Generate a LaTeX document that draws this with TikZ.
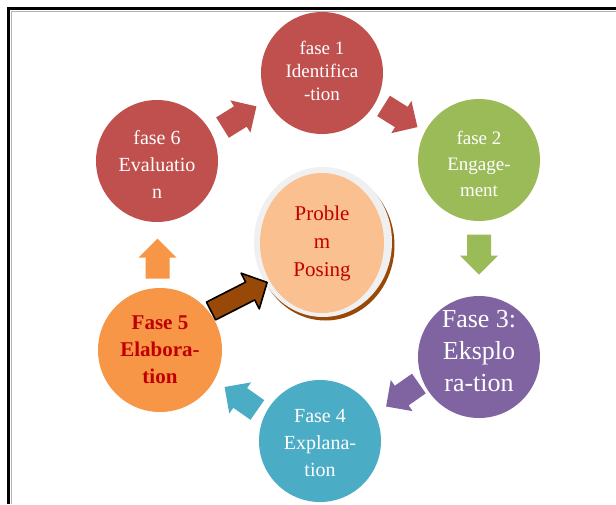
\documentclass[tikz,border=0pt]{standalone}
\usepackage{fontspec}
\setmainfont{Liberation Serif}
\usetikzlibrary{calc,shapes.geometric}
\definecolor{cred}{HTML}{C0504D}
\definecolor{cgreen}{HTML}{9BBB59}
\definecolor{cpurple}{HTML}{8064A2}
\definecolor{cblue}{HTML}{4BACC6}
\definecolor{corange}{HTML}{F79646}
\definecolor{cpeach}{HTML}{FAC090}
\definecolor{cbrown}{HTML}{984807}
\definecolor{cring}{HTML}{F0F0F0}
\definecolor{ctext}{HTML}{C00000}
\tikzset{
  phase/.style={circle, minimum size=122pt, inner sep=0pt, draw=none},
  lbl/.style={align=center, text=white, inner sep=0pt},
}
\newcommand{\blockarr}[3]{%
  \fill[#3, shift={#1}, rotate=#2] (-20,-12) -- (1,-12) -- (1,-19) -- (20,0) -- (1,19) -- (1,12) -- (-20,12) -- cycle;}
\begin{document}
\begin{tikzpicture}[x=1pt,y=-1pt]
\useasboundingbox (0,0) rectangle (616,504);
\fill[white] (0,0) rectangle (616,504);
% frame
\draw[gray!60, line width=1pt] (11,504) -- (11,11) -- (616,11);
\draw[black, line width=2.4pt] (8.5,504) -- (8.5,8.5) -- (616,8.5);
% circles
\node[phase, fill=cred]    (f1) at (322,73)  {};
\node[phase, fill=cgreen]  (f2) at (479,160) {};
\node[phase, fill=cpurple] (f3) at (479,357) {};
\node[phase, fill=cblue]   (f4) at (320,441) {};
\node[phase, fill=corange, minimum size=124pt] (f5) at (160,350) {};
\node[phase, fill=cred]    (f6) at (157,161) {};
% centre
\fill[cbrown] (325.5,245.5) ellipse [x radius=69, y radius=75];
\fill[cring] (323,242) ellipse [x radius=69, y radius=75];
\node[ellipse, fill=cpeach, minimum width=124pt, minimum height=140pt, inner sep=0pt,
      align=center, text=ctext, font=\fontsize{21}{28}\selectfont] (c) at (322,243) {Proble\\m\\Posing};
% labels
\node[lbl, font=\fontsize{19}{23}\selectfont] at (f1) [yshift=2pt] {fase 1\\Identifica\\-tion};
\node[lbl, font=\fontsize{19}{26}\selectfont] at (f2) [yshift=-4pt] {fase 2\\Engage-\\ment};
\node[lbl, font=\fontsize{26}{32}\selectfont] at (f3) [yshift=6pt] {Fase 3:\\Eksplo\\ra-tion};
\node[lbl, font=\fontsize{20}{27}\selectfont] at (f4) [yshift=-2pt] {Fase 4\\Explana-\\tion};
\node[lbl, text=ctext, font=\bfseries\fontsize{21}{27}\selectfont] at (f5) {Fase 5\\Elabora-\\tion};
\node[lbl, font=\fontsize{20}{27}\selectfont] at (f6) [yshift=-3pt] {fase 6\\Evaluatio\\n};
% block arrows
\blockarr{($(f6)!0.5!(f1)$)}{32}{cred}
\blockarr{($(f1)!0.5!(f2)$)}{-32}{cred}
\blockarr{($(f2)!0.5!(f3)+(0,-4)$)}{-90}{cgreen}
\blockarr{($(f3)!0.5!(f4)+(3,-4)$)}{-145}{cpurple}
\blockarr{($(f4)!0.5!(f5)+(1,3)$)}{145}{cblue}
\blockarr{($(f5)!0.5!(f6)+(-1,3)$)}{90}{corange}
% brown arrow to centre
\coordinate (bt) at (211,311);
\draw[fill=cbrown, draw=black, line width=1.6pt, line join=round, shift={(bt)}, rotate=27]
  (0,-10) -- (44,-10) -- (44,-20) -- (63,0) -- (44,20) -- (44,10) -- (0,10) -- cycle;
\end{tikzpicture}
\end{document}
